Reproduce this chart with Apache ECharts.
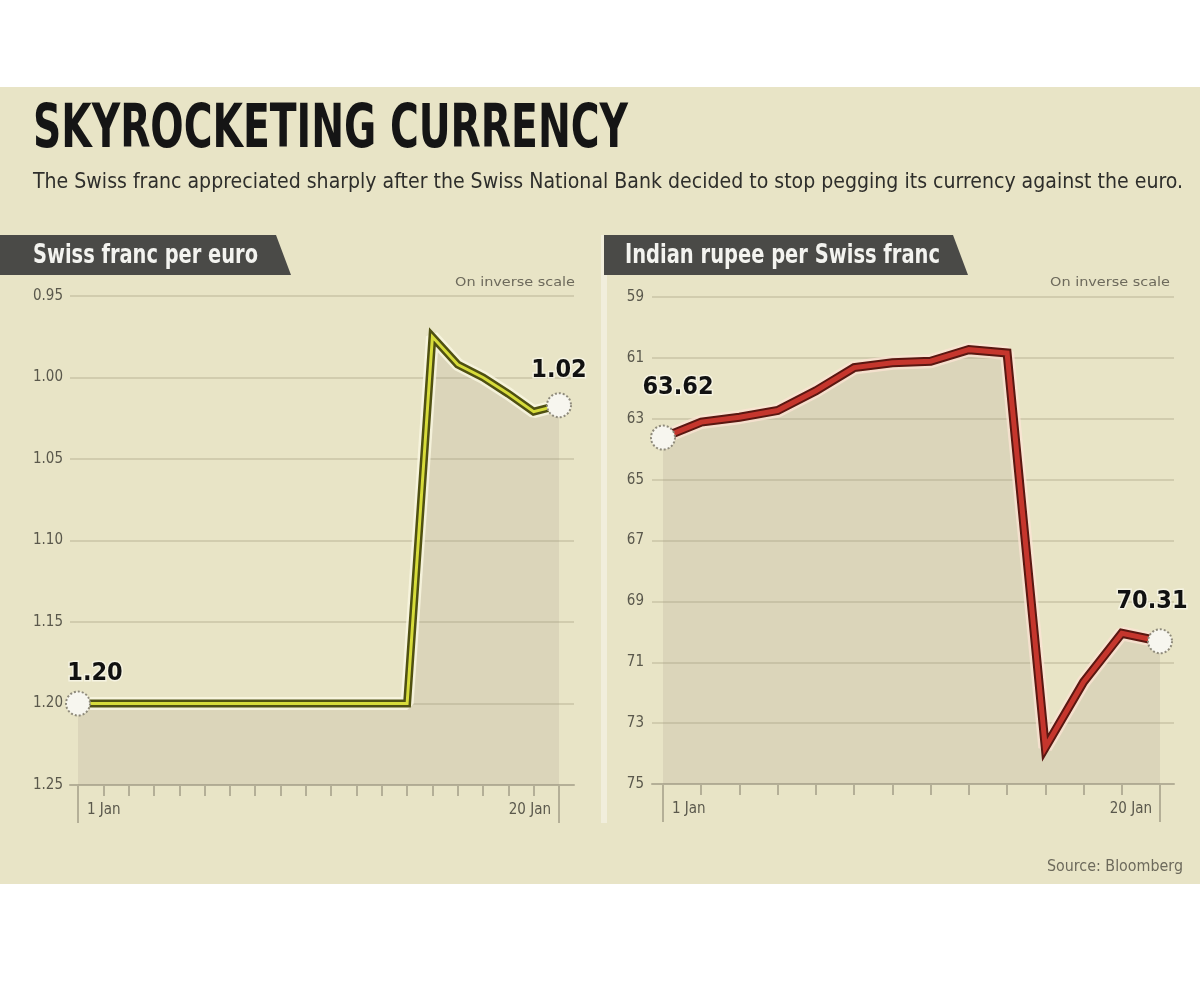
<!DOCTYPE html>
<html>
<head>
<meta charset="utf-8">
<script src="https://cdn.jsdelivr.net/npm/echarts@6/dist/echarts.min.js"></script>
<style>
  html, body { margin: 0; padding: 0; background: #fff; }
  #main { width: 1200px; height: 981px; }
</style>
</head>
<body>
<div id="main"></div>
<script>
// Swiss franc per euro, calendar days 1-20 Jan (inverse scale)
const frDays = ['1 Jan', '2 Jan', '3 Jan', '4 Jan', '5 Jan', '6 Jan', '7 Jan', '8 Jan', '9 Jan', '10 Jan',
  '11 Jan', '12 Jan', '13 Jan', '14 Jan', '15 Jan', '16 Jan', '17 Jan', '18 Jan', '19 Jan', '20 Jan'];
const chfPerEur = [1.20, 1.20, 1.20, 1.20, 1.20, 1.20, 1.20, 1.20, 1.20, 1.20,
  1.20, 1.20, 1.20, 1.20, 0.975, 0.992, 1.000, 1.010, 1.021, 1.017];
const frTicks = ['0.95', '1.00', '1.05', '1.10', '1.15', '1.20', '1.25'];

// Indian rupee per Swiss franc, trading days (inverse scale)
const inDays = ['1 Jan', '2 Jan', '5 Jan', '6 Jan', '7 Jan', '8 Jan', '9 Jan',
  '12 Jan', '13 Jan', '14 Jan', '15 Jan', '16 Jan', '19 Jan', '20 Jan'];
const inrPerChf = [63.62, 63.11, 62.95, 62.73, 62.08, 61.32, 61.16,
  61.11, 60.73, 60.84, 73.8, 71.65, 70.05, 70.31];
const inTicks = ['59', '61', '63', '65', '67', '69', '71', '73', '75'];

const FONT = "'Liberation Sans Narrow', 'DejaVu Sans Condensed', 'Roboto', sans-serif";
const BEIGE = '#e8e4c6';

// squeeze text to a given width (the original uses a very condensed face)
const mctx = document.createElement('canvas').getContext('2d');
function fitText(str, x, y, size, weight, color, width, alignRight) {
  mctx.font = weight + ' ' + size + 'px ' + FONT;
  const s = width / mctx.measureText(str).width;
  return {
    type: 'text',
    x: alignRight ? x - width : x,
    y: y,
    scaleX: s,
    z: 10,
    style: {
      text: str,
      fontSize: size,
      fontWeight: weight,
      fontFamily: FONT,
      fill: color,
      align: 'left',
      verticalAlign: 'middle'
    }
  };
}

const chart = echarts.init(document.getElementById('main'));

function tickAxis(grid, cats) {
  const last = cats.length - 1;
  return [
    // base line across the full plot width
    {
      gridIndex: grid, type: 'value', min: 0, max: 1,
      axisLine: { show: true, onZero: false, lineStyle: { color: '#b4af97', width: 2 } },
      axisTick: { show: false }, axisLabel: { show: false }, splitLine: { show: false }
    },
    // daily ticks + end labels
    {
      gridIndex: grid + 1, type: 'category', data: cats, boundaryGap: false, position: 'bottom',
      axisLine: { show: false },
      axisTick: { show: true, interval: 0, length: 11, lineStyle: { color: '#b4af97', width: 2 } },
      axisLabel: {
        interval: (i) => i === 0 || i === last,
        margin: 18, fontSize: 15, fontFamily: FONT, color: '#5a584c',
        alignMinLabel: 'left', alignMaxLabel: 'right', padding: [0, 8, 0, 9]
      },
      splitLine: { show: false }
    },
    // long bracket ticks at both ends
    {
      gridIndex: grid + 1, type: 'category', data: cats, boundaryGap: false, position: 'bottom', offset: 0,
      axisLine: { show: false },
      axisTick: { show: true, interval: (i) => i === 0 || i === last, length: 38, lineStyle: { color: '#b4af97', width: 2 } },
      axisLabel: { show: false }, splitLine: { show: false }
    }
  ];
}

function gridAxis(grid, ticks, margin) {
  return {
    gridIndex: grid, type: 'category', data: ticks, inverse: true, boundaryGap: false,
    axisLine: { show: false }, axisTick: { show: false },
    axisLabel: { margin: margin, fontSize: 15, fontFamily: FONT, color: '#5a584c' },
    splitLine: { show: true, interval: 0, lineStyle: { color: '#d1ccae', width: 2 } }
  };
}

function lineSet(xi, yi, vals, halo, dark, core, wDark, wCore) {
  const base = { type: 'line', xAxisIndex: xi, yAxisIndex: yi, data: vals, symbol: 'none', silent: true, animation: false };
  return [
    Object.assign({}, base, {
      lineStyle: { color: halo, width: wDark + 5 },
      areaStyle: { origin: 'end', color: 'rgba(160,150,130,0.25)' }, z: 2
    }),
    Object.assign({}, base, { lineStyle: { color: dark, width: wDark, join: 'miter' }, z: 3 }),
    Object.assign({}, base, { lineStyle: { color: core, width: wCore, join: 'miter' }, z: 4 })
  ];
}

function endPoints(xi, yi, vals, offFirst, offLast) {
  const last = vals.length - 1;
  return {
    type: 'scatter', xAxisIndex: xi, yAxisIndex: yi, z: 6, animation: false, silent: true,
    symbolSize: 24,
    itemStyle: { color: '#f7f6ef', borderColor: '#8e8a7b', borderWidth: 2, borderType: 'dotted', opacity: 1 },
    label: {
      show: true, position: 'top', distance: 5,
      formatter: (p) => p.value[1].toFixed(2),
      fontFamily: FONT, fontWeight: 'bold', fontSize: 25, color: '#111111',
      textBorderColor: 'rgba(246,244,228,0.9)', textBorderWidth: 3
    },
    data: [
      { value: [0, vals[0]], label: { offset: offFirst } },
      { value: [last, vals[last]], label: { offset: offLast } }
    ]
  };
}

const option = {
  backgroundColor: '#ffffff',
  animation: false,
  grid: [
    { left: 70, right: 626, top: 296, bottom: 196 },
    { left: 78, right: 641, top: 296, bottom: 196 },
    { left: 652, right: 26, top: 297, bottom: 197 },
    { left: 663, right: 40, top: 297, bottom: 197 }
  ],
  xAxis: tickAxis(0, frDays).concat(tickAxis(2, inDays)),
  yAxis: [
    gridAxis(0, frTicks, 7),
    { gridIndex: 1, type: 'value', min: 0.95, max: 1.25, inverse: true, show: false },
    gridAxis(2, inTicks, 8),
    { gridIndex: 3, type: 'value', min: 59, max: 75, inverse: true, show: false }
  ],
  series: [].concat(
    lineSet(1, 1, chfPerEur, 'rgba(252,250,228,0.75)', '#4f5012', '#d7dc3a', 8, 3),
    [endPoints(1, 1, chfPerEur, [17, 0], [0, -4])],
    lineSet(4, 3, inrPerChf, 'rgba(255,228,214,0.7)', '#5a1711', '#c5362d', 9, 5),
    [endPoints(4, 3, inrPerChf, [15, -20], [-8, -9])]
  ),
  graphic: [
    { type: 'rect', z: -100, shape: { x: 0, y: 87, width: 1200, height: 797 }, style: { fill: BEIGE } },
    { type: 'rect', z: -90, shape: { x: 601, y: 235, width: 6, height: 588 }, style: { fill: '#f1eedc' } },
    { type: 'polygon', z: 5, shape: { points: [[0, 235], [276, 235], [291, 275], [0, 275]] }, style: { fill: '#4a4a47' } },
    { type: 'polygon', z: 5, shape: { points: [[604, 235], [953, 235], [968, 275], [604, 275]] }, style: { fill: '#4a4a47' } },
    fitText('SKYROCKETING CURRENCY', 33, 131, 60, 'bold', '#151515', 595, false),
    fitText('The Swiss franc appreciated sharply after the Swiss National Bank decided to stop pegging its currency against the euro.',
      33, 183, 21, 'normal', '#2e2e2b', 1150, false),
    fitText('Swiss franc per euro', 33, 256, 26, 'bold', '#f3f3ef', 225, false),
    fitText('Indian rupee per Swiss franc', 625, 256, 26, 'bold', '#f3f3ef', 315, false),
    fitText('On inverse scale', 575, 283, 13, 'normal', '#6d6a5c', 120, true),
    fitText('On inverse scale', 1170, 283, 13, 'normal', '#6d6a5c', 120, true),
    fitText('Source: Bloomberg', 1183, 867, 15, 'normal', '#6d6a5c', 136, true)
  ]
};

chart.setOption(option);
</script>
</body>
</html>
